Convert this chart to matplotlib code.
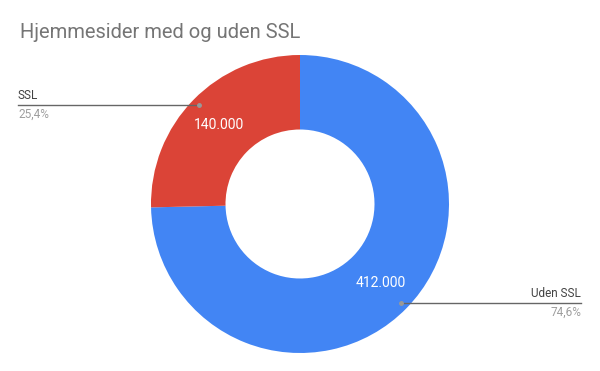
import numpy as np
from matplotlib import pyplot as pl

labels = ['Uden SSL', 'SSL']
values = [412000, 140000]
colors = ['#4285F4', '#DB4437']
title = 'Hjemmesider med og uden SSL'

pl.rcParams['font.family'] = ['Roboto', 'DejaVu Sans']

fig = pl.figure(figsize=(6, 3.71), dpi=100)
ax = fig.add_axes([0, 0, 1, 1])
ax.axis('off')

cx, cy = 300, 167
R = 149
hole = 0.5

total = sum(values)


def fmt(v):
    return '{:,}'.format(v).replace(',', '.')


wedges, _ = ax.pie(
        values,
        colors=colors,
        startangle=90,
        counterclock=False,
        center=(cx, cy),
        radius=R,
        wedgeprops=dict(width=R*(1-hole), linewidth=0)
        )
ax.set_xlim(0, 600)
ax.set_ylim(0, 371)
ax.set_aspect('equal')

for w, v, lab in zip(wedges, values, labels):
    mid = np.deg2rad((w.theta1 + w.theta2)/2)
    # value inside ring
    rv = R*0.76
    ax.text(cx + rv*np.cos(mid), cy + rv*np.sin(mid), fmt(v),
            color='white', fontsize=10, ha='center', va='center')
    # leader dot and line
    rd = R*0.95
    dx, dy = cx + rd*np.cos(mid), cy + rd*np.sin(mid)
    pct = '{:.1f}%'.format(100*v/total).replace('.', ',')
    if np.cos(mid) < 0:
        xe, ha = 18, 'left'
    else:
        xe, ha = 581, 'right'
    ax.plot([dx, xe], [dy, dy], color='#666666', linewidth=1)
    ax.plot(dx, dy, 'o', color='#999999', markersize=2.5)
    ax.text(xe, dy + 3, lab, color='#424242', fontsize=8.5, ha=ha, va='bottom')
    ax.text(xe, dy - 3, pct, color='#9e9e9e', fontsize=8.5, ha=ha, va='top')

fig.text(20/600, 1 - 33/371, title, color='#757575', fontsize=14.5,
         ha='left', va='center')

fig.savefig('out.png', dpi=100)
